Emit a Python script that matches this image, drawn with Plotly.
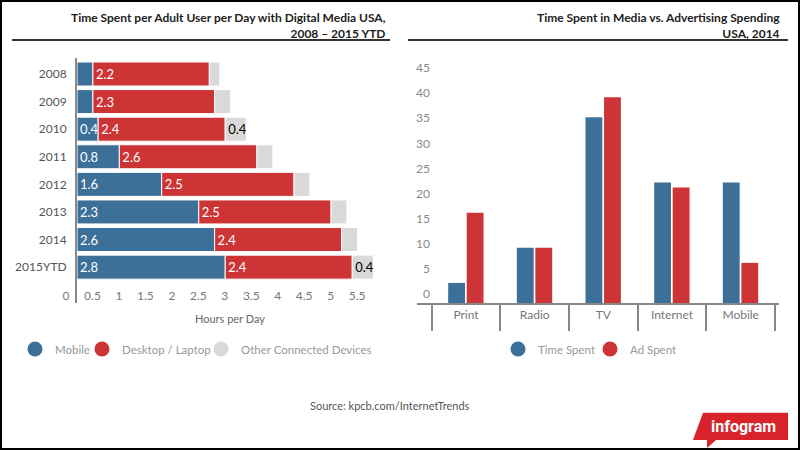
import plotly.graph_objects as go

# ---------------- data ----------------
years = ["2008", "2009", "2010", "2011", "2012", "2013", "2014", "2015YTD"]
mobile = [0.3, 0.3, 0.4, 0.8, 1.6, 2.3, 2.6, 2.8]
desktop = [2.2, 2.3, 2.4, 2.6, 2.5, 2.5, 2.4, 2.4]
other = [0.2, 0.3, 0.4, 0.3, 0.3, 0.3, 0.3, 0.4]

media = ["Print", "Radio", "TV", "Internet", "Mobile"]
time_spent = [4, 11, 37, 24, 24]
ad_spent = [18, 11, 41, 23, 8]

left_series = ["Mobile", "Desktop / Laptop", "Other Connected Devices"]
right_series = ["Time Spent", "Ad Spent"]

x_ticks_left = [0, 0.5, 1, 1.5, 2, 2.5, 3, 3.5, 4, 4.5, 5, 5.5]
y_ticks_right = [0, 5, 10, 15, 20, 25, 30, 35, 40, 45]

BLUE = "#3D7099"
RED = "#CC3435"
GREY = "#D9D9D9"
FONT = "Lato, sans-serif"

W, H = 800, 450
def px(x):
    return x / W
def py(y):
    return 1 - y / H

def lbl(vals, minv):
    return [f"{v}" if v >= minv else "" for v in vals]

base_red = mobile
base_grey = [m + d for m, d in zip(mobile, desktop)]

fig = go.Figure()
common_left = dict(orientation="h", y=years, xaxis="x", yaxis="y", width=0.87, offset=-0.435,
                   textposition="inside", insidetextanchor="start", textangle=0,
                   constraintext="none", showlegend=False,
                   hoverinfo="skip", marker_line_width=1, marker_line_color="white",
                   cliponaxis=False)
fig.add_trace(go.Bar(x=mobile, marker_color=BLUE, text=lbl(mobile, 0.4),
                     textfont=dict(color="white", size=13, family=FONT), **common_left))
fig.add_trace(go.Bar(x=desktop, base=base_red, marker_color=RED, text=lbl(desktop, 0.4),
                     textfont=dict(color="white", size=13, family=FONT), **common_left))
fig.add_trace(go.Bar(x=other, base=base_grey, marker_color=GREY, text=lbl(other, 0.4),
                     textfont=dict(color="black", size=13, family=FONT), **common_left))

fig.add_trace(go.Bar(x=media, y=time_spent, xaxis="x2", yaxis="y2", marker_color=BLUE,
                     width=0.245, offset=-0.26, showlegend=False, hoverinfo="skip",
                     marker_line_width=0))
fig.add_trace(go.Bar(x=media, y=ad_spent, xaxis="x2", yaxis="y2", marker_color=RED,
                     width=0.245, offset=0.01, showlegend=False, hoverinfo="skip",
                     marker_line_width=0))

legend_items = [
    (left_series[0], BLUE, "x", "y", 38),
    (left_series[1], RED, "x", "y", 105),
    (left_series[2], GREY, "x", "y", 224),
    (right_series[0], BLUE, "x2", "y2", 521),
    (right_series[1], RED, "x2", "y2", 613),
]
legend_layouts = {}
for i, (name, col, xa, ya, cx) in enumerate(legend_items):
    key = "legend" if i == 0 else f"legend{i + 1}"
    fig.add_trace(go.Scatter(x=[None], y=[None], mode="markers", name=name, xaxis=xa, yaxis=ya,
                             marker=dict(color=col, size=15, symbol="circle"), legend=key))
    legend_layouts[key] = dict(orientation="h", x=px(cx - 23), y=py(349), xanchor="left",
                               yanchor="middle", font=dict(size=11.5, color="#999", family=FONT),
                               bgcolor="rgba(0,0,0,0)", itemclick=False, itemdoubleclick=False)

left_y_top, left_y_bot = 58, 303
right_y_top, right_y_bot = 62, 303

fig.update_layout(
    width=W, height=H,
    margin=dict(l=0, r=0, t=0, b=0, autoexpand=False),
    paper_bgcolor="white", plot_bgcolor="white",
    font=dict(family=FONT, color="#666", size=12),
    barmode="overlay",
    uniformtext=dict(minsize=13, mode="show"),
    xaxis=dict(domain=[px(77), px(384)], range=[0, 5.8], tickvals=x_ticks_left,
               ticktext=[f"{v:g}" for v in x_ticks_left], showgrid=False, zeroline=False,
               showline=False, ticks="", ticklabelshift=-11, ticklabelstandoff=-16,
               automargin=False,
               tickfont=dict(size=12, color="#777"), anchor="y", fixedrange=True),
    yaxis=dict(domain=[py(left_y_bot), py(left_y_top)], type="category",
               range=[8.30, -0.58], showgrid=False, zeroline=False, showline=True,
               linecolor="#888", linewidth=2, ticks="", ticklabelstandoff=6, automargin=False,
               tickfont=dict(size=12, color="#555"), anchor="x", fixedrange=True),
    xaxis2=dict(domain=[px(417), px(779)], type="category", range=[-0.714, 4.558],
                showgrid=False, zeroline=False, showline=True, linecolor="#888", linewidth=2,
                ticks="outside", tickson="boundaries", ticklen=26, tickcolor="#888", tickwidth=2,
                ticklabelstandoff=0, automargin=False,
                tickfont=dict(size=12, color="#777"), anchor="y2", fixedrange=True),
    yaxis2=dict(domain=[py(right_y_bot), py(right_y_top)], range=[0, 48], tickvals=y_ticks_right,
                showgrid=False, zeroline=False, showline=False, ticks="",
                ticklabelshift=-9, ticklabelstandoff=-14, automargin=False,
                tickfont=dict(size=12, color="#888"), anchor="x2", fixedrange=True),
    **legend_layouts,
)

title_font = dict(family=FONT, size=12, color="#222")
annotations = [
    dict(text="<b>Time Spent per Adult User per Day with Digital Media USA,</b><br><b>2008 – 2015 YTD</b>",
         x=px(388), y=py(25), xref="paper", yref="paper", xanchor="right", yanchor="middle",
         align="right", showarrow=False, font=title_font),
    dict(text="<b>Time Spent in Media vs. Advertising Spending</b><br><b>USA, 2014</b>",
         x=px(782), y=py(25), xref="paper", yref="paper", xanchor="right", yanchor="middle",
         align="right", showarrow=False, font=title_font),
    dict(text="Hours per Day", x=px(230), y=py(318), xref="paper", yref="paper",
         xanchor="center", yanchor="middle", showarrow=False,
         font=dict(family=FONT, size=11, color="#666")),
    dict(text="Source: kpcb.com/InternetTrends", x=px(390), y=py(405), xref="paper", yref="paper",
         xanchor="center", yanchor="middle", showarrow=False,
         font=dict(family=FONT, size=11, color="#555")),
    dict(text="<b>infogram</b>", x=px(743), y=py(426), xref="paper", yref="paper",
         xanchor="center", yanchor="middle", showarrow=False,
         font=dict(family="Roboto, sans-serif", size=16, color="white")),
]
fig.update_layout(annotations=annotations)

def P(x, y):
    return f"{px(x):.4f},{py(y):.4f}"
logo_path = ("M " + P(703, 412.7) + " L " + P(788, 412.7) + " L " + P(788, 440) +
             " L " + P(716, 440) + " L " + P(707, 448) + " L " + P(707, 440) +
             " L " + P(693, 440) + " Z")

shapes = [
    dict(type="line", xref="paper", yref="paper", x0=px(12), x1=px(390), y0=py(40), y1=py(40),
         line=dict(color="#333", width=2)),
    dict(type="line", xref="paper", yref="paper", x0=px(408), x1=px(788), y0=py(40), y1=py(40),
         line=dict(color="#333", width=2)),
    dict(type="path", xref="paper", yref="paper", path=logo_path, fillcolor="#D8232A",
         line=dict(width=0), layer="below"),
    dict(type="rect", xref="paper", yref="paper", x0=px(1), x1=px(799), y0=py(449), y1=py(1),
         line=dict(color="black", width=2)),
]
fig.update_layout(shapes=shapes)

post = ("document.documentElement.style.margin='0';document.body.style.margin='0';"
        "document.body.style.padding='0';document.documentElement.style.overflow='hidden';"
        "document.body.style.overflow='hidden';")
fig.write_html("out.html", config={"displayModeBar": False, "responsive": False},
               post_script=post)
